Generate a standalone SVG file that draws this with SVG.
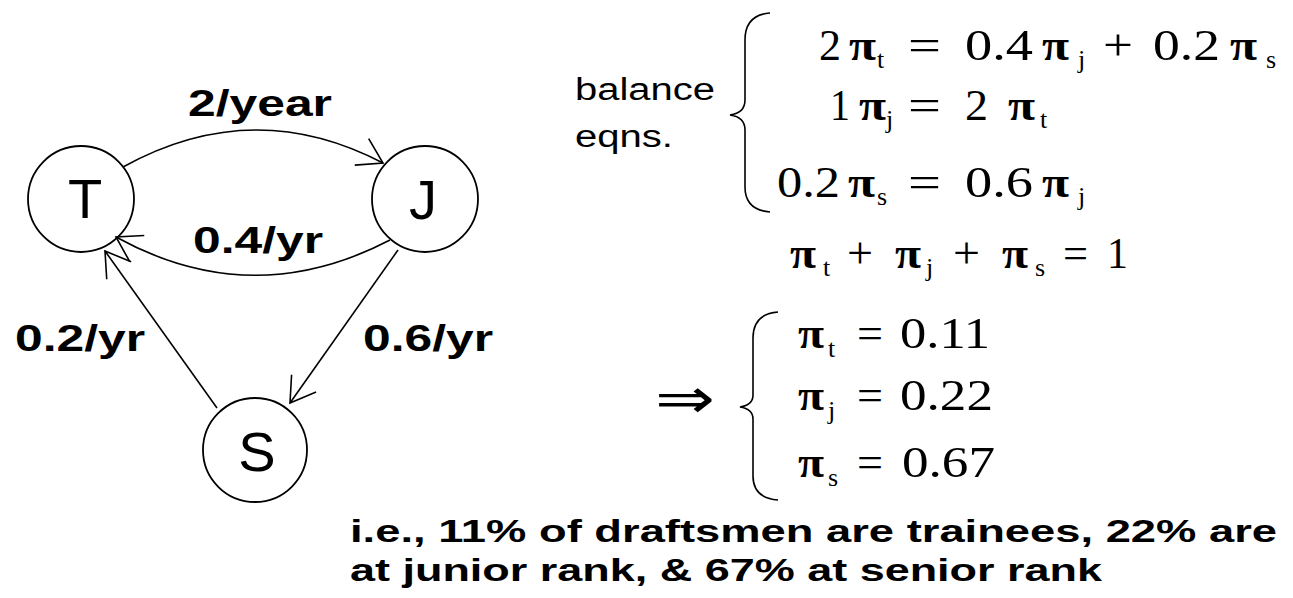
<svg xmlns="http://www.w3.org/2000/svg" width="1293" height="598" viewBox="0 0 1293 598">
<style>
.bg{fill:#fff}
.node circle{fill:none;stroke:#000;stroke-width:1.8}
.nl{font-family:"Liberation Sans",Arial,sans-serif;font-size:56px;fill:#000;text-anchor:middle}
.edge{fill:none;stroke:#000;stroke-width:1.6}
.lbl{font-family:"Liberation Sans",Arial,sans-serif;font-weight:bold;font-size:36px;fill:#000}
.m{font-family:"Liberation Serif","Times New Roman",serif;font-size:44px;fill:#000}
.pi{font-family:"Liberation Serif","Times New Roman",serif;font-size:44px;font-weight:bold;fill:#000}
.sub{font-family:"Liberation Serif","Times New Roman",serif;font-size:26px;fill:#000}
.note{font-family:"Liberation Sans",Arial,sans-serif;font-size:31px;fill:#000}
.foot{font-family:"Liberation Sans",Arial,sans-serif;font-weight:bold;font-size:32px;fill:#000}
.brace{fill:none;stroke:#000;stroke-width:1.6}
</style>
<defs>
<marker id="arr" markerUnits="userSpaceOnUse" markerWidth="40" markerHeight="40" refX="0" refY="0" viewBox="-30 -20 40 40" orient="auto">
<path d="M-24,-15 L0,0 L-24,15" fill="none" stroke="#000" stroke-width="1.6"/>
</marker>
</defs>
<rect class="bg" x="0" y="0" width="1293" height="598"/>

<g id="connectors">
<path class="edge" d="M123,167 Q253,95 383,163" marker-end="url(#arr)"/>
<path class="edge" d="M390,240 Q252,312 116,237" marker-end="url(#arr)"/>
<path class="edge" d="M217,408 L105,251" marker-end="url(#arr)"/>
<path class="edge" d="M398,250 L290,403" marker-end="url(#arr)"/>
<text class="lbl" x="188" y="116" textLength="144" lengthAdjust="spacingAndGlyphs">2/year</text>
<text class="lbl" x="193" y="253" textLength="130" lengthAdjust="spacingAndGlyphs">0.4/yr</text>
<text class="lbl" x="15" y="351" textLength="130" lengthAdjust="spacingAndGlyphs">0.2/yr</text>
<text class="lbl" x="363" y="351" textLength="130" lengthAdjust="spacingAndGlyphs">0.6/yr</text>
</g>

<g id="node-T" class="node">
<circle cx="81" cy="199" r="53"/>
<text class="nl" x="85" y="218">T</text>
</g>
<g id="node-J" class="node">
<circle cx="425" cy="199" r="53"/>
<text class="nl" x="423" y="219">J</text>
</g>
<g id="node-S" class="node">
<circle cx="255" cy="450" r="52"/>
<text class="nl" x="257" y="471">S</text>
</g>

<g id="balance-eqns">
<text class="note" x="575" y="100" textLength="140" lengthAdjust="spacingAndGlyphs">balance</text>
<text class="note" x="575" y="147" textLength="98" lengthAdjust="spacingAndGlyphs">eqns.</text>
<path class="brace" d="M770,13 Q745,15 745,40 L745,100 Q745,113 730,115 Q745,117 745,130 L745,187 Q745,210 770,212"/>

<text class="m" x="819" y="60" textLength="22" lengthAdjust="spacingAndGlyphs">2</text>
<text class="pi" x="849" y="60" textLength="27" lengthAdjust="spacingAndGlyphs">π</text>
<text class="sub" x="877" y="68">t</text>
<text class="m" x="908" y="60" textLength="33" lengthAdjust="spacingAndGlyphs">=</text>
<text class="m" x="965" y="60" textLength="68" lengthAdjust="spacingAndGlyphs">0.4</text>
<text class="pi" x="1042" y="60" textLength="27" lengthAdjust="spacingAndGlyphs">π</text>
<text class="sub" x="1078" y="68">j</text>
<text class="m" x="1103" y="60" textLength="30" lengthAdjust="spacingAndGlyphs">+</text>
<text class="m" x="1153" y="60" textLength="67" lengthAdjust="spacingAndGlyphs">0.2</text>
<text class="pi" x="1230" y="60" textLength="27" lengthAdjust="spacingAndGlyphs">π</text>
<text class="sub" x="1266" y="68">s</text>

<text class="m" x="830" y="120" textLength="20" lengthAdjust="spacingAndGlyphs">1</text>
<text class="pi" x="859" y="120" textLength="27" lengthAdjust="spacingAndGlyphs">π</text>
<text class="sub" x="886" y="128">j</text>
<text class="m" x="908" y="120" textLength="33" lengthAdjust="spacingAndGlyphs">=</text>
<text class="m" x="965" y="120" textLength="23" lengthAdjust="spacingAndGlyphs">2</text>
<text class="pi" x="1008" y="120" textLength="27" lengthAdjust="spacingAndGlyphs">π</text>
<text class="sub" x="1040" y="128">t</text>

<text class="m" x="777" y="197" textLength="63" lengthAdjust="spacingAndGlyphs">0.2</text>
<text class="pi" x="848" y="197" textLength="27" lengthAdjust="spacingAndGlyphs">π</text>
<text class="sub" x="877" y="205">s</text>
<text class="m" x="908" y="197" textLength="33" lengthAdjust="spacingAndGlyphs">=</text>
<text class="m" x="965" y="197" textLength="68" lengthAdjust="spacingAndGlyphs">0.6</text>
<text class="pi" x="1042" y="197" textLength="27" lengthAdjust="spacingAndGlyphs">π</text>
<text class="sub" x="1078" y="205">j</text>
</g>

<g id="sum-eq">
<text class="pi" x="790" y="268" textLength="26" lengthAdjust="spacingAndGlyphs">π</text>
<text class="sub" x="823" y="276">t</text>
<text class="m" x="847" y="268" textLength="26" lengthAdjust="spacingAndGlyphs">+</text>
<text class="pi" x="895" y="268" textLength="26" lengthAdjust="spacingAndGlyphs">π</text>
<text class="sub" x="926" y="276">j</text>
<text class="m" x="953" y="268" textLength="27" lengthAdjust="spacingAndGlyphs">+</text>
<text class="pi" x="1002" y="268" textLength="26" lengthAdjust="spacingAndGlyphs">π</text>
<text class="sub" x="1035" y="276">s</text>
<text class="m" x="1063" y="268" textLength="25" lengthAdjust="spacingAndGlyphs">=</text>
<text class="m" x="1107" y="268" textLength="21" lengthAdjust="spacingAndGlyphs">1</text>
</g>

<g id="results">
<text x="655" y="418" font-family="DejaVu Sans,sans-serif" font-size="56" textLength="60" lengthAdjust="spacingAndGlyphs">⇒</text>
<path class="brace" d="M778,312 Q753,314 753,338 L753,395 Q753,405 740,407 Q753,409 753,419 L753,476 Q753,498 778,500"/>
<text class="pi" x="798" y="348" textLength="26" lengthAdjust="spacingAndGlyphs">π</text>
<text class="sub" x="828" y="357">t</text>
<text class="m" x="857" y="348" textLength="26" lengthAdjust="spacingAndGlyphs">=</text>
<text class="m" x="900" y="348" textLength="90" lengthAdjust="spacingAndGlyphs">0.11</text>
<text class="pi" x="798" y="410" textLength="26" lengthAdjust="spacingAndGlyphs">π</text>
<text class="sub" x="828" y="419">j</text>
<text class="m" x="857" y="410" textLength="26" lengthAdjust="spacingAndGlyphs">=</text>
<text class="m" x="900" y="410" textLength="93" lengthAdjust="spacingAndGlyphs">0.22</text>
<text class="pi" x="798" y="477" textLength="26" lengthAdjust="spacingAndGlyphs">π</text>
<text class="sub" x="828" y="486">s</text>
<text class="m" x="857" y="477" textLength="26" lengthAdjust="spacingAndGlyphs">=</text>
<text class="m" x="902" y="477" textLength="93" lengthAdjust="spacingAndGlyphs">0.67</text>
</g>

<g id="footnote">
<text class="foot" x="350" y="542" textLength="927" lengthAdjust="spacingAndGlyphs">i.e., 11% of draftsmen are trainees, 22% are</text>
<text class="foot" x="350" y="581" textLength="752" lengthAdjust="spacingAndGlyphs">at junior rank, &amp; 67% at senior rank</text>
</g>
</svg>
